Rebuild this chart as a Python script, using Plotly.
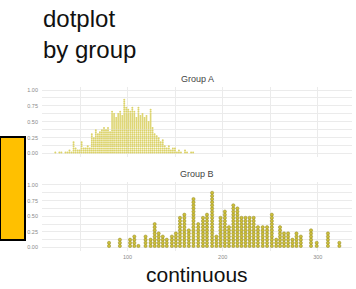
import plotly.graph_objects as go

# ---- data ----
# Group A: stack centres (x) and number of dots in each stack
a_x = [24.0, 26.2, 28.3, 30.4, 32.6, 34.7, 36.8, 38.9, 41.1, 43.2, 45.3, 47.5, 49.6, 51.7,
       53.9, 56.0, 58.1, 60.3, 62.4, 64.5, 66.6, 68.8, 70.9, 73.0, 75.2, 77.3, 79.4, 81.6,
       83.7, 85.8, 88.0, 90.1, 92.2, 94.4, 96.5, 98.6, 100.7, 102.9, 105.0, 107.1, 109.3,
       111.4, 113.5, 115.7, 117.8, 119.9, 122.1, 124.2, 126.3, 128.4, 130.6, 132.7, 134.8,
       137.0, 139.1, 141.2, 143.4, 145.5, 147.6, 149.8, 151.9, 154.0, 156.1, 158.3, 160.4,
       162.5, 164.7, 166.8, 168.9, 171.1]
a_n = [1, 0, 1, 1, 0, 1, 1, 2, 1, 6, 3, 2, 2, 6, 3, 3, 4, 3, 10, 8, 12, 10, 11, 12, 13, 12,
       13, 11, 21, 20, 18, 20, 21, 19, 27, 23, 22, 21, 23, 21, 18, 23, 19, 20, 18, 19, 16, 22,
       13, 10, 9, 8, 6, 7, 4, 3, 4, 2, 3, 3, 1, 2, 1, 0, 2, 1, 0, 1, 1, 0]

# Group B: stack centres (x) and number of dots in each stack
b_x = [80.5, 91.9, 102.6, 107.1, 111.4, 118.9, 124.2, 128.5, 132.7, 137.0, 141.2, 146.6,
       150.8, 155.1, 159.7, 164.4, 169.3, 174.3, 179.3, 183.5, 188.9, 193.4, 197.7, 202.3,
       206.6, 211.2, 215.5, 219.8, 224.0, 228.3, 232.6, 237.1, 242.1, 246.7, 251.7, 256.3,
       260.3, 264.5, 268.8, 273.4, 277.6, 282.2, 292.9, 298.9, 310.7, 322.7]
b_n = [2, 3, 3, 4, 1, 4, 3, 8, 5, 4, 3, 4, 5, 10, 11, 6, 16, 8, 10, 11, 18, 4, 10, 12, 7,
       14, 13, 10, 10, 10, 10, 7, 7, 7, 11, 3, 7, 5, 5, 3, 5, 4, 6, 2, 5, 2]

y_ticks = [0, 0.25, 0.5, 0.75, 1.0]
y_tick_text = ["0.00", "0.25", "0.50", "0.75", "1.00"]
x_ticks = [100, 200, 300]
x_tick_text = ["100", "200", "300"]
panel_titles = ["Group A", "Group B"]
main_title = ["dotplot", "by group"]
x_title = "continuous"

A_STEP = 0.032
B_STEP = 0.05


def stack(xs, ns, step):
    px, py = [], []
    for x, n in zip(xs, ns):
        for k in range(n):
            px.append(x)
            py.append((k + 0.5) * step)
    return px, py


W, H = 356, 289
ax_pts, ay_pts = stack(a_x, a_n, A_STEP)
bx_pts, by_pts = stack(b_x, b_n, B_STEP)

fig = go.Figure()
fig.add_trace(go.Scatter(x=ax_pts, y=ay_pts, mode="markers", xaxis="x", yaxis="y",
                         marker=dict(size=2.0, color="#DCD36A", line=dict(width=0)),
                         showlegend=False, hoverinfo="skip"))
fig.add_trace(go.Scatter(x=bx_pts, y=by_pts, mode="markers", xaxis="x2", yaxis="y2",
                         marker=dict(size=3.2, color="#CFC13A",
                                     line=dict(width=0.5, color="#8E8420")),
                         showlegend=False, hoverinfo="skip"))

GRID = "#EBEBEB"
TICKF = dict(family="Liberation Sans, Arial, sans-serif", size=5.5, color="#8A8A8A")
xdom = [42 / W, 352 / W]
xrange_ = [10, 336]
yrange_ = [-0.05, 1.05]


def xax(show_labels, anchor):
    return dict(domain=xdom, range=xrange_, anchor=anchor, tickmode="array",
                tickvals=x_ticks, ticktext=x_tick_text, showticklabels=show_labels,
                showgrid=True, gridcolor=GRID, gridwidth=1, zeroline=False,
                showline=False, ticks="", tickfont=TICKF, automargin=False,
                ticklabelstandoff=2,
                minor=dict(tickmode="linear", tick0=0, dtick=50, showgrid=True,
                           gridcolor=GRID, gridwidth=0.6))


def yax(dom, anchor):
    return dict(domain=dom, range=yrange_, anchor=anchor, tickmode="array",
                tickvals=y_ticks, ticktext=y_tick_text, showgrid=True, gridcolor=GRID,
                gridwidth=1, zeroline=False, showline=False, ticks="", tickfont=TICKF,
                automargin=False, ticklabelstandoff=3,
                minor=dict(tickmode="linear", tick0=0, dtick=0.125, showgrid=True,
                           gridcolor=GRID, gridwidth=0.6))


fig.update_layout(
    width=W, height=H, autosize=False,
    margin=dict(l=0, r=0, t=0, b=0),
    paper_bgcolor="white", plot_bgcolor="white",
    xaxis=xax(False, "y"),
    yaxis=yax([1 - 156.65 / H, 1 - 86.85 / H], "x"),
    xaxis2=xax(True, "y2"),
    yaxis2=yax([1 - 250.65 / H, 1 - 181.85 / H], "x2"),
    font=dict(family="Liberation Sans, Arial, sans-serif"),
)

BIG = dict(family="Liberation Sans, Arial, sans-serif", size=24, color="#111111")
STRIP = dict(family="Liberation Sans, Arial, sans-serif", size=9, color="#444444")
ann = [
    dict(text="<br>".join(main_title), x=41 / W, y=1 - 33.5 / H, xanchor="left",
         yanchor="middle", align="left", font=BIG),
    dict(text=panel_titles[0], x=197 / W, y=1 - 79 / H, xanchor="center", yanchor="middle",
         font=STRIP),
    dict(text=panel_titles[1], x=197 / W, y=1 - 174 / H, xanchor="center", yanchor="middle",
         font=STRIP),
    dict(text=x_title, x=197 / W, y=1 - 274 / H, xanchor="center", yanchor="middle",
         font=dict(family="Liberation Sans, Arial, sans-serif", size=21, color="#111111")),
]
for a in ann:
    a.update(xref="paper", yref="paper", showarrow=False)
fig.update_layout(annotations=ann)

fig.add_shape(type="rect", xref="paper", yref="paper", x0=0, x1=25 / W,
              y0=1 - 240 / H, y1=1 - 137 / H, fillcolor="#FFC000",
              line=dict(color="black", width=2))

fig.write_html("out.html", config={"displayModeBar": False},
               post_script="document.body.style.margin='0';document.body.style.overflow='hidden';")
